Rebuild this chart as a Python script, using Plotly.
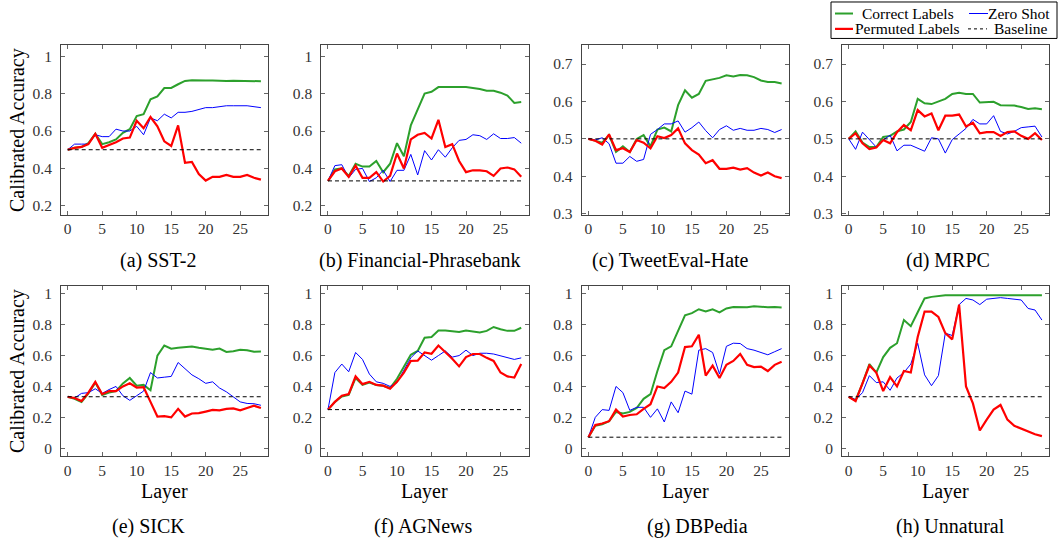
import plotly.graph_objects as go

W, H = 1058, 547

layers = list(range(29))

# ---- (a) SST-2 ----
correct_sst2 = [0.50, 0.51, 0.515, 0.535, 0.585, 0.53, 0.54, 0.555, 0.59, 0.61, 0.68, 0.69, 0.77, 0.785, 0.83,
                0.83, 0.85, 0.868, 0.872, 0.873, 0.87, 0.87, 0.868, 0.868, 0.869, 0.868, 0.867, 0.866, 0.866]
zeroshot_sst2 = [0.50, 0.53, 0.53, 0.53, 0.58, 0.57, 0.57, 0.61, 0.60, 0.60, 0.625, 0.58, 0.67, 0.655, 0.69,
                 0.67, 0.70, 0.70, 0.705, 0.715, 0.725, 0.725, 0.73, 0.735, 0.735, 0.735, 0.735, 0.73, 0.725]
permuted_sst2 = [0.50, 0.51, 0.515, 0.53, 0.585, 0.51, 0.525, 0.54, 0.56, 0.565, 0.655, 0.615, 0.675, 0.625, 0.545,
                 0.52, 0.63, 0.43, 0.435, 0.37, 0.335, 0.355, 0.355, 0.365, 0.355, 0.355, 0.365, 0.35, 0.34]
baseline_sst2 = 0.5

# ---- (b) Financial-Phrasebank ----
correct_fin = [0.333, 0.395, 0.40, 0.36, 0.425, 0.41, 0.41, 0.44, 0.38, 0.425, 0.535, 0.465, 0.63, 0.72, 0.80,
               0.81, 0.835, 0.835, 0.835, 0.838, 0.835, 0.83, 0.825, 0.815, 0.815, 0.805, 0.79, 0.75, 0.755]
zeroshot_fin = [0.333, 0.415, 0.42, 0.35, 0.395, 0.40, 0.33, 0.35, 0.39, 0.33, 0.39, 0.39, 0.475, 0.365, 0.495,
                0.445, 0.50, 0.46, 0.51, 0.55, 0.555, 0.58, 0.575, 0.555, 0.585, 0.56, 0.56, 0.565, 0.535]
permuted_fin = [0.333, 0.385, 0.40, 0.355, 0.415, 0.35, 0.35, 0.38, 0.33, 0.36, 0.48, 0.40, 0.555, 0.58, 0.59,
                0.56, 0.66, 0.515, 0.53, 0.44, 0.38, 0.39, 0.39, 0.385, 0.36, 0.40, 0.405, 0.395, 0.355]
baseline_fin = 1 / 3

# ---- (c) TweetEval-Hate ----
correct_tweet = [0.50, 0.495, 0.49, 0.51, 0.465, 0.48, 0.465, 0.50, 0.51, 0.48, 0.525, 0.53, 0.52, 0.59, 0.63,
                 0.61, 0.62, 0.655, 0.658, 0.663, 0.67, 0.667, 0.671, 0.67, 0.665, 0.656, 0.652, 0.652, 0.648]
zeroshot_tweet = [0.50, 0.497, 0.503, 0.487, 0.435, 0.435, 0.453, 0.44, 0.445, 0.512, 0.525, 0.54, 0.54, 0.548, 0.518,
                  0.53, 0.545, 0.522, 0.503, 0.525, 0.535, 0.523, 0.528, 0.523, 0.523, 0.528, 0.525, 0.517, 0.525]
permuted_tweet = [0.50, 0.495, 0.485, 0.512, 0.47, 0.475, 0.465, 0.497, 0.49, 0.475, 0.507, 0.502, 0.51, 0.528, 0.488,
                  0.47, 0.458, 0.435, 0.443, 0.42, 0.42, 0.423, 0.418, 0.422, 0.41, 0.402, 0.41, 0.40, 0.395]
baseline_tweet = 0.5

# ---- (d) MRPC ----
correct_mrpc = [0.50, 0.52, 0.49, 0.478, 0.478, 0.505, 0.508, 0.52, 0.525, 0.545, 0.607, 0.595, 0.593, 0.60, 0.607,
                0.62, 0.623, 0.62, 0.62, 0.597, 0.597, 0.599, 0.59, 0.59, 0.589, 0.585, 0.58, 0.582, 0.579]
zeroshot_mrpc = [0.50, 0.472, 0.518, 0.498, 0.478, 0.497, 0.51, 0.468, 0.483, 0.483, 0.475, 0.467, 0.503, 0.50, 0.462,
                 0.498, 0.513, 0.528, 0.552, 0.54, 0.54, 0.562, 0.52, 0.513, 0.52, 0.53, 0.532, 0.534, 0.505]
permuted_mrpc = [0.50, 0.515, 0.488, 0.473, 0.477, 0.497, 0.488, 0.518, 0.537, 0.523, 0.577, 0.56, 0.568, 0.523, 0.562,
                 0.562, 0.565, 0.533, 0.543, 0.515, 0.518, 0.518, 0.508, 0.518, 0.52, 0.508, 0.50, 0.515, 0.497]
baseline_mrpc = 0.5

# ---- (e) SICK ----
correct_sick = [0.333, 0.32, 0.30, 0.355, 0.425, 0.345, 0.36, 0.37, 0.42, 0.455, 0.405, 0.41, 0.375, 0.60, 0.665,
                0.645, 0.65, 0.655, 0.658, 0.65, 0.643, 0.638, 0.645, 0.623, 0.628, 0.638, 0.635, 0.625, 0.626]
zeroshot_sick = [0.333, 0.325, 0.355, 0.36, 0.385, 0.355, 0.38, 0.40, 0.34, 0.31, 0.34, 0.37, 0.49, 0.455, 0.46,
                 0.465, 0.555, 0.515, 0.475, 0.45, 0.42, 0.43, 0.39, 0.365, 0.33, 0.30, 0.29, 0.288, 0.278]
permuted_sick = [0.333, 0.325, 0.305, 0.36, 0.43, 0.35, 0.37, 0.37, 0.40, 0.42, 0.393, 0.395, 0.30, 0.205, 0.208,
                 0.20, 0.255, 0.205, 0.225, 0.227, 0.237, 0.248, 0.245, 0.255, 0.258, 0.245, 0.26, 0.275, 0.26]
baseline_sick = 1 / 3

# ---- (f) AGNews ----
correct_ag = [0.25, 0.30, 0.335, 0.345, 0.455, 0.41, 0.425, 0.41, 0.405, 0.39, 0.45, 0.53, 0.605, 0.63, 0.715,
              0.72, 0.762, 0.762, 0.755, 0.752, 0.762, 0.758, 0.75, 0.76, 0.785, 0.77, 0.76, 0.76, 0.78]
zeroshot_ag = [0.25, 0.49, 0.545, 0.495, 0.62, 0.575, 0.48, 0.43, 0.42, 0.40, 0.425, 0.51, 0.585, 0.63, 0.60,
               0.57, 0.60, 0.63, 0.59, 0.60, 0.635, 0.60, 0.615, 0.615, 0.61, 0.60, 0.585, 0.575, 0.585]
permuted_ag = [0.25, 0.30, 0.34, 0.35, 0.465, 0.415, 0.43, 0.41, 0.405, 0.385, 0.43, 0.49, 0.565, 0.567, 0.62,
               0.612, 0.665, 0.625, 0.58, 0.53, 0.59, 0.61, 0.61, 0.585, 0.565, 0.49, 0.465, 0.458, 0.545]
baseline_ag = 0.25

# ---- (g) DBPedia ----
correct_db = [0.071, 0.145, 0.155, 0.175, 0.235, 0.225, 0.235, 0.26, 0.32, 0.35, 0.50, 0.635, 0.66, 0.76, 0.86,
              0.875, 0.90, 0.885, 0.90, 0.88, 0.905, 0.915, 0.915, 0.913, 0.92, 0.915, 0.913, 0.915, 0.912]
zeroshot_db = [0.071, 0.20, 0.25, 0.245, 0.40, 0.36, 0.245, 0.265, 0.265, 0.20, 0.255, 0.17, 0.30, 0.23, 0.37,
               0.35, 0.635, 0.645, 0.62, 0.48, 0.66, 0.68, 0.678, 0.645, 0.635, 0.62, 0.605, 0.625, 0.645]
permuted_db = [0.071, 0.15, 0.16, 0.175, 0.25, 0.205, 0.215, 0.22, 0.255, 0.285, 0.40, 0.39, 0.43, 0.49, 0.655,
               0.66, 0.735, 0.47, 0.535, 0.455, 0.54, 0.565, 0.61, 0.54, 0.525, 0.528, 0.50, 0.54, 0.56]
baseline_db = 1 / 14

# ---- (h) Unnatural ----
correct_un = [0.333, 0.31, 0.42, 0.545, 0.49, 0.59, 0.65, 0.68, 0.83, 0.79, 0.88, 0.97, 0.98, 0.985, 0.99,
              0.99, 0.99, 0.99, 0.99, 0.99, 0.99, 0.99, 0.99, 0.99, 0.99, 0.99, 0.99, 0.99, 0.99]
zeroshot_un = [0.333, 0.315, 0.36, 0.47, 0.425, 0.43, 0.375, 0.455, 0.49, 0.545, 0.68, 0.475, 0.405, 0.47, 0.745,
               0.73, 0.93, 0.97, 0.96, 0.93, 0.965, 0.97, 0.975, 0.97, 0.965, 0.96, 0.905, 0.895, 0.83]
permuted_un = [0.333, 0.305, 0.42, 0.535, 0.49, 0.37, 0.46, 0.40, 0.50, 0.49, 0.72, 0.885, 0.885, 0.85, 0.745,
               0.705, 0.93, 0.40, 0.29, 0.115, 0.185, 0.25, 0.28, 0.185, 0.145, 0.125, 0.105, 0.09, 0.078]
baseline_un = 1 / 3

captions = ["(a) SST-2", "(b) Financial-Phrasebank", "(c) TweetEval-Hate", "(d) MRPC",
            "(e) SICK", "(f) AGNews", "(g) DBPedia", "(h) Unnatural"]
series_names = ["Correct Labels", "Zero Shot", "Permuted Labels", "Baseline"]
xtick_vals = [0, 5, 10, 15, 20, 25]
ytick_wide = [0.2, 0.4, 0.6, 0.8, 1.0]
ytick_wide_text = ["0.2", "0.4", "0.6", "0.8", "1"]
ytick_narrow = [0.3, 0.4, 0.5, 0.6, 0.7]
ytick_narrow_text = ["0.3", "0.4", "0.5", "0.6", "0.7"]
ytick_full = [0, 0.2, 0.4, 0.6, 0.8, 1.0]
ytick_full_text = ["0", "0.2", "0.4", "0.6", "0.8", "1"]

panels = [
    (correct_sst2, zeroshot_sst2, permuted_sst2, baseline_sst2),
    (correct_fin, zeroshot_fin, permuted_fin, baseline_fin),
    (correct_tweet, zeroshot_tweet, permuted_tweet, baseline_tweet),
    (correct_mrpc, zeroshot_mrpc, permuted_mrpc, baseline_mrpc),
    (correct_sick, zeroshot_sick, permuted_sick, baseline_sick),
    (correct_ag, zeroshot_ag, permuted_ag, baseline_ag),
    (correct_db, zeroshot_db, permuted_db, baseline_db),
    (correct_un, zeroshot_un, permuted_un, baseline_un),
]

# ---------------- style / layout ----------------
FONT = "Liberation Serif"
GREEN, BLUE, RED = "#2ca02c", "#0000ff", "#ff0000"
col_left = [61, 321.3, 581.7, 842]
box_w = 207.3
row_top = [45, 289.3]
row_bot = [217, 461.7]
yranges = [[0.152, 1.058], [0.152, 1.058], [0.297, 0.75], [0.297, 0.75]] + [[-0.05, 1.05]] * 4
yticks = [(ytick_wide, ytick_wide_text)] * 2 + [(ytick_narrow, ytick_narrow_text)] * 2 + [(ytick_full, ytick_full_text)] * 4
cap_x = [158, 420, 670, 948, 148, 423, 697, 950]


def px(x):
    return x / W


def py(y):
    return 1 - y / H


fig = go.Figure()
layout = {}
annotations = []
shapes = []

for i, (corr, zs, perm, base) in enumerate(panels):
    r, c = divmod(i, 4)
    k = "" if i == 0 else str(i + 1)
    xa, ya = "x" + k, "y" + k
    style = [(corr, GREEN, 2.0, "solid", series_names[0]),
             (zs, BLUE, 1.0, "solid", series_names[1]),
             (perm, RED, 2.2, "solid", series_names[2])]
    for vals, col, wd, dash, nm in style:
        fig.add_trace(go.Scatter(x=layers, y=vals, mode="lines", name=nm, showlegend=False,
                                 line=dict(color=col, width=wd, dash=dash), xaxis=xa, yaxis=ya))
    fig.add_trace(go.Scatter(x=[layers[0], layers[-1]], y=[base, base], mode="lines", name=series_names[3],
                             showlegend=False, line=dict(color="black", width=1, dash="4px,3px"),
                             xaxis=xa, yaxis=ya))
    common = dict(showline=True, linecolor="#444", linewidth=1, mirror="allticks", ticks="inside",
                  ticklen=4, tickcolor="#666", tickwidth=1, showgrid=False, zeroline=False,
                  tickfont=dict(family=FONT, size=15.5, color="#333"))
    layout["xaxis" + k] = dict(domain=[px(col_left[c]), px(col_left[c] + box_w)], anchor=ya,
                               range=[-0.97, 29.07], tickvals=xtick_vals, ticklabelstandoff=0, **common)
    layout["yaxis" + k] = dict(domain=[py(row_bot[r]), py(row_top[r])], anchor=xa,
                               range=yranges[i], tickvals=yticks[i][0], ticktext=yticks[i][1],
                               ticklabelstandoff=5, **common)
    if r == 0:
        annotations.append(dict(text=captions[i], x=px(cap_x[i]), y=py(263), xref="paper", yref="paper",
                                showarrow=False, xanchor="center", yanchor="middle",
                                font=dict(family=FONT, size=20, color="black")))
    else:
        annotations.append(dict(text=captions[i], x=px(cap_x[i]), y=0, xref="paper", yref="paper",
                                showarrow=False, xanchor="center", yanchor="bottom",
                                font=dict(family=FONT, size=20, color="black")))
        annotations.append(dict(text="Layer", x=px(col_left[c] + box_w / 2), y=py(498), xref="paper",
                                yref="paper", showarrow=False, xanchor="center", yanchor="middle",
                                font=dict(family=FONT, size=20, color="black")))
    if c == 0:
        annotations.append(dict(text="Calibrated Accuracy", x=px(17), y=py((row_top[r] + row_bot[r]) / 2),
                                xref="paper", yref="paper", showarrow=False, textangle=-90,
                                xanchor="center", yanchor="middle",
                                font=dict(family=FONT, size=20, color="black")))

# ---- manual legend (top right) ----
shapes.append(dict(type="rect", xref="paper", yref="paper", x0=px(831), x1=px(1057), y0=py(38), y1=py(1),
                   line=dict(color="black", width=1), fillcolor="white"))
leg_items = [
    (series_names[0], GREEN, 2.0, "solid", 835, 853, 907.5, 12.7),
    (series_names[1], BLUE, 1.0, "solid", 969, 988, 1019, 12.7),
    (series_names[2], RED, 2.2, "solid", 835, 853, 907.5, 28.3),
    (series_names[3], "black", 1.0, "3px,3px", 968, 987, 1020, 28.3),
]
for nm, col, wd, dash, x0, x1, tx, yy in leg_items:
    shapes.append(dict(type="line", xref="paper", yref="paper", x0=px(x0), x1=px(x1), y0=py(yy), y1=py(yy),
                       line=dict(color=col, width=wd, dash=dash)))
    annotations.append(dict(text=nm, x=px(tx), y=py(yy), xref="paper", yref="paper", showarrow=False,
                            xanchor="center", yanchor="middle", font=dict(family=FONT, size=15.5, color="black")))

fig.update_layout(width=W, height=H, margin=dict(l=0, r=0, t=0, b=0), plot_bgcolor="white",
                  paper_bgcolor="white", showlegend=False, annotations=annotations, shapes=shapes,
                  font=dict(family=FONT), **layout)

fig.write_html("out.html", config={"displayModeBar": False},
               post_script="document.body.style.margin='0';document.body.style.overflow='hidden';")
